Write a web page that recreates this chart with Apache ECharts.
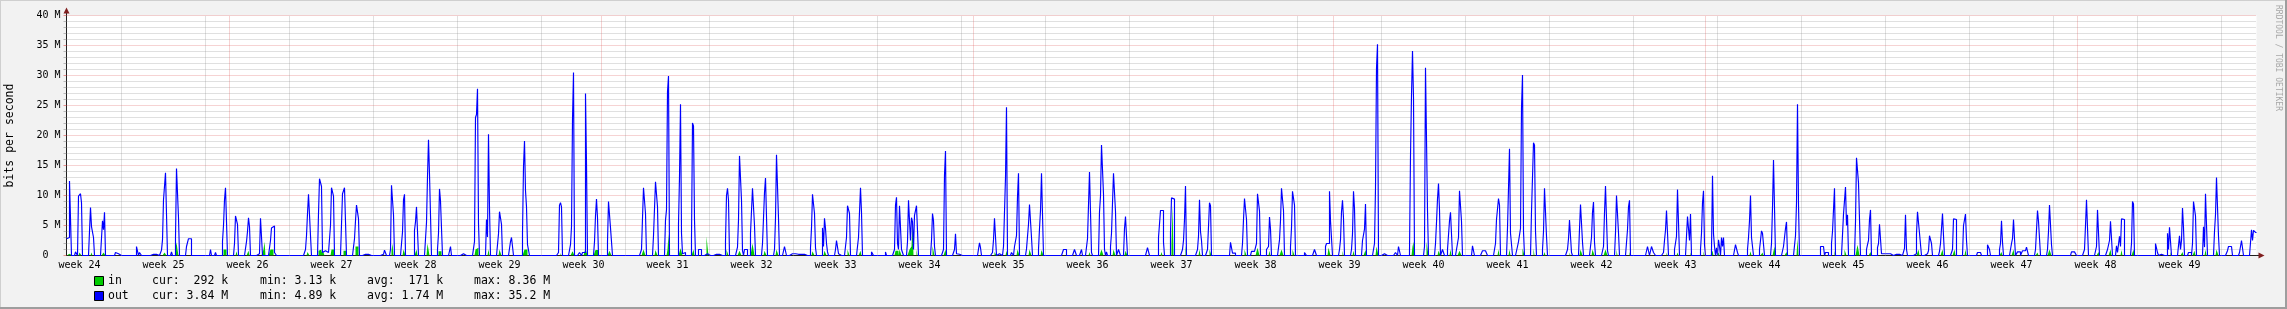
<!DOCTYPE html>
<html><head><meta charset="utf-8">
<script src="https://cdn.jsdelivr.net/npm/echarts@6/dist/echarts.min.js"></script>
<style>html,body{margin:0;padding:0;background:#f2f2f2}#c{width:2287px;height:309px}</style>
</head><body><div id="c"></div>
<script>
// ---- data (time unit: one 2-hour slot; values in Mbit/s) ----
const weekLabels = ['week 24','week 25','week 26','week 27','week 28','week 29','week 30','week 31','week 32','week 33','week 34','week 35','week 36','week 37','week 38','week 39','week 40','week 41','week 42','week 43','week 44','week 45','week 46','week 47','week 48','week 49'];
const weekStarts = [55,139,223,307,391,475,559,643,727,811,895,979,1063,1147,1231,1315,1399,1483,1567,1651,1735,1819,1903,1987,2071,2155];
const monthStarts = [163,535,907,1267,1639,2011];
const yTicks = [0,5,10,15,20,25,30,35,40];
const outSegments = [
[0,[2.8,2.8,3.0,12.4,12.4]],[9,[0.6,0.6]],[12,[9.9,9.9,10.3,8.8]],[24,[8.0,4.8,4.8,3.0]],[36,[5.8,4.3,7.2]],
[49,[0.5,0.5,0.3]],[70,[1.5,1.5]],[73,[0.5,0.5]],[85,[0.2,0.2,0.2,0.2,0.2,0.2]],[95,[0.9,2.6,9.3,9.3,13.8,13.8]],
[105,[0.6]],[109,[3.0,14.5,14.5,6.3]],[120,[1.5,1.5,2.8,2.8,2.8]],[135,[0.2]],[144,[1.0]],[149,[0.5]],
[156,[2.4,5.0,9.3,11.3,11.3]],[168,[2.0,6.6,6.6,5.2]],[180,[2.3,4.0,6.3,4.8]],[192,[0.3,0.5,6.2,6.0]],
[204,[2.5,4.6,4.9,4.9,0.5,0.5]],[231,[0.2,0.2]],[239,[1.0,3.3,7.0,10.2,10.2,3.3]],
[252,[7.0,12.8,12.8,11.5,0.5,0.5,0.8,0.5,1.0,0.5,0.5,0.8]],[264,[5.0,11.3,11.3,9.9]],[276,[10.3,10.3,11.3,11.3]],
[288,[2.8,5.8,8.4,8.4,6.1]],[296,[0.2,0.2,0.2,0.2,0.2,0.2,0.2,0.2]],[315,[0.2,0.2,0.2,0.9,0.9]],
[324,[1.0,11.7,11.7,6.8]],[336,[3.9,9.3,10.2]],[348,[4.2,5.6,8.1,8.1]],[360,[5.5,13.1,19.3,13.5,13.2]],
[371,[1.0,3.7,11.1,9.1,9.1]],[384,[1.5]],[396,[0.3]],[408,[2.3,23.0,23.5,27.8,5.3]],[420,[6.0,3.1,20.2,7.8]],
[432,[3.6,7.3,7.6,5.2]],[444,[2.3,3.0,3.0]],[456,[3.8,14.8,19.1,10.8,8.1,1.8,1.8]],[469,[0.3]],[481,[0.3]],
[492,[0.5,8.4,8.8,8.1]],[504,[1.8,4.8,22.7,30.5]],[513,[0.5,0.5,0,0.5,0.5,0.5,27.0,15.3]],[528,[2.3,6.6,9.4,6.3]],
[541,[2.3,9.0,9.0,4.6,4.4]],[553,[0.3]],[571,[0.3]],[575,[1.0,6.2,11.3,11.3,7.0]],[587,[3.3,3.3,12.3,12.3,8.1]],
[599,[5.9,7.6,27.3,29.9]],[612,[5.3,13.1,25.2,3.7,0.3,0.3,0.5]],[625,[3.0,22.1,21.6,5.9]],[632,[1.0,1.0,1.0]],
[639,[0.3,0.3,0.3,0.3]],[649,[0.2,0.2,0.2,0.2,0.2,0.2]],[659,[2.4,10.0,11.2,9.2]],[671,[1.4,5.9,16.6,16.6,9.2,0.8]],
[678,[1.0,1.0,1.0]],[684,[3.7,3.7,11.2,11.2,5.0]],[696,[2.0,6.2,10.5,12.9,12.9]],[708,[1.0,6.2,16.8,16.8,6.2]],
[718,[1.5,1.5]],[724,[0.3,0.3,0.3,0.3,0.3,0.3]],[730,[0.2,0.2,0.2,0.2,0.2,0.2,0.2,0.2]],
[744,[1.3,4.6,10.2,10.2,7.0,1.3]],[756,[4.6,1.5,6.2,4.5,2.0,0.6]],[769,[1.0,2.5,2.5,0.3]],[780,[3.0,8.3,8.3,7.0]],
[792,[3.0,7.2,11.3,7.2]],[805,[0.6,0.6]],[819,[0.6]],[828,[1.0,8.4,9.7,2.0,1.0,8.3,8.3,1.0,0.5]],
[841,[2.3,9.2,9.2,2.5,6.3,5.6,1.0,6.7,6.7,8.3,8.3]],[865,[2.5,7.0,5.8,1.5]],[877,[1.0,13.4,17.4]],
[888,[1.0,3.6,0.3,0.2,0.2]],[913,[2.1,1.3]],[926,[0.5,2.6,6.2,6.2]],[932,[0.3]],[937,[1.5,1.5,13.0,24.7]],
[945,[0.5,0.5]],[948,[1.5,1.5,3.3,9.8,13.7]],[960,[1.1,1.1,5.2,8.5,8.5,3.0]],[972,[1.0,4.5,7.5,13.7,13.7]],
[997,[1.0,1.0,1.0]],[1008,[1.0,1.0]],[1015,[1.0]],[1021,[2.8,2.8,13.9,13.9,0.5]],[1033,[7.3,9.9,18.4,18.4,10.2,1.0]],
[1040,[0.6]],[1044,[1.5,3.7,3.7,13.7,13.7,7.3]],[1052,[1.0,1.0]],[1058,[4.5,6.5,6.7]],[1081,[1.3,1.3]],
[1092,[3.0,3.0,7.5,7.5,7.5,2.2]],[1104,[3.9,9.6,9.6,9.4]],[1116,[1.0,2.5,6.0,11.6]],[1131,[1.0,3.2,9.3,4.0,2.5]],
[1141,[1.0,4.8,8.8,8.3]],[1164,[2.2,2.2,0.4,0.4,0.4]],[1176,[2.0,6.0,9.5,9.5,6.0]],
[1185,[0.7,0.7,0.7,0.7,1.0,2.0,10.3,10.3,7.4]],[1200,[1.0,1.3,1.5,6.4,4.4]],[1213,[2.6,5.8,11.2,11.2,7.5]],
[1224,[1.5,4.6,10.7,10.7,8.4]],[1238,[0.5,0.5]],[1248,[1.0,1.0]],[1259,[1.5,2.0,2.0,2.0,10.7,5.8,5.8]],
[1273,[1.0,2.6,7.3,9.2,6.2]],[1285,[1.0,3.6,10.7,7.8]],[1296,[2.5,2.5,4.4,8.6]],[1308,[2.0,11.2,31.2,35.2]],
[1317,[0.3]],[1329,[0.5,0.5,0,1.5,1.5]],[1343,[0.8,16.6,26.7,34.1,26.3]],[1358,[1.5,31.3,31.3,7.5]],
[1369,[2.0,5.5,9.4,12.0,7.6]],[1376,[1.0,1.0]],[1381,[1.0,1.0,5.8,7.2,7.0]],[1390,[1.0,1.0,3.0,10.8,10.8,5.7]],
[1406,[1.6,1.6]],[1416,[0.8,0.8,0.8,0.8,0.8]],[1429,[2.0,6.0,6.0,9.5,8.4]],[1441,[4.6,4.6,17.8,3.7,3.7]],
[1451,[1.5,2.3,2.3,4.5,24.6,30.1,4.0]],[1465,[7.3,7.3,18.8,18.4,4.1]],[1476,[1.0,4.0,11.2,11.2,3.2]],
[1490,[0.3]],[1501,[1.0,2.8,5.9,5.9,0.5]],[1513,[4.4,8.5,8.5,2.2]],[1525,[3.0,7.2,8.9,2.2]],
[1537,[1.5,7.1,11.6,11.6,0.8]],[1549,[3.8,10.0,10.0,3.8]],[1561,[4.3,8.1,9.2]],[1581,[1.5,1.5]],
[1585,[1.5,1.5,0.5,0.5]],[1597,[0.5,2.5,4.2,7.5,7.5]],[1608,[1.0,1.0,3.2,11.0,11.0]],[1621,[6.5,6.5,2.5,6.9]],
[1634,[1.0,3.7,8.8,10.8,1.8]],[1645,[1.0,13.3,3.6,1.5,0,1.3,0,2.6,1.5,0,3.0,1.5,3.0]],[1669,[1.8,1.8,0.5]],
[1681,[1.0,3.0,5.8,10.0,3.0,1.5]],[1693,[1.0,2.5,4.1,3.7,3.5]],[1705,[2.0,8.0,15.9,8.0]],[1717,[1.5,1.5,4.5,5.6]],
[1729,[3.3,8.7,25.2,8.5]],[1740,[0.3]],[1754,[1.5,1.5,1.5,1.5,0,0.5,0.5,0.5]],[1765,[2.0,4.0,4.0,11.2]],
[1777,[6.9,6.9,11.4,5.0,6.8]],[1789,[5.6,16.3,16.3,12.1,12.1]],[1800,[1.0,1.8,2.5,6.0,7.6]],
[1811,[1.3,2.0,5.2,5.2,0.3,0.3,0.3,0.3,0.3,0.3,0.3,0.3,0.3,0.3]],[1828,[0.2,0.2,0.2,0.2,0.2,0.2]],
[1838,[1.2,6.8,1.0]],[1848,[0.3,0.3,3.6,7.3,7.3,3.7,3.7]],[1860,[0.3,0.5,0.8,3.3,3.3,2.0]],
[1873,[0.7,2.0,2.2,7.0,3.3]],[1885,[0.5,1.0,6.1,6.1,6.0]],[1896,[0.3,5.0,5.0,6.9,2.5]],[1911,[0.5,0.5,0.5,0.5]],
[1921,[1.8,1.8,1.0]],[1933,[1.0,2.0,5.8,2.2]],[1944,[1.0,2.0,2.8,6.0,2.8]],[1951,[0.6,0.6,0.6]],
[1956,[0.8,0.8,0.8,0.8,1.4,1.4]],[1969,[1.0,1.0,7.5,5.7,5.7]],[1981,[1.0,4.0,8.4,8.4,1.8]],[1996,[0.3]],
[2005,[0.6,0.6,0.6,0.6,0.6]],[2018,[1.0,5.0,9.3,9.3]],[2030,[1.5,7.6,7.6]],[2041,[1.0,1.0,2.5,5.7,5.7]],
[2050,[1.6,0.5,0.5,3.2,1.5,6.1,6.4,6.0]],[2065,[2.0,9.0,8.6]],[2077,[0.3,0.3]],[2089,[2.0,2.0,0.5]],
[2094,[0.2,0.2,0.2]],[2101,[3.7,1.0,4.7,4.9]],[2113,[3.3,1.0,2.5,7.9,4.6]],[2122,[0.5,0.5,0.5]],
[2126,[2.0,9.0,9.0,6.6]],[2137,[4.8,1.4,10.3,10.3]],[2148,[4.0,6.8,13.0,13.0,3.2]],[2161,[0.8,1.5,1.5,1.5,1.5]],
[2173,[0.5,0.5,2.5,2.5]],[2185,[4.3,2.5,4.2,4.2,3.84]]
];
const inSegments = [
[1,[0.3,0.3,0.3]],[13,[0.5,0.5]],[25,[0.5]],[37,[0.5,0.5]],[98,[0.5,0.5]],[109,[1.0,2.2,1.0]],[157,[1.0,1.0,1.0]],
[170,[0.7]],[182,[0.8]],[196,[0.5,1.0,2.3]],[204,[1.0,1.0,1.0]],[241,[0.6,0.6]],[252,[0.8,0.5,1.0,0.5,1.0,0.8]],
[265,[1.0,1.0,1.0]],[277,[0.8,0.8,0.8]],[289,[1.5,1.5,1.5]],[325,[0.8,2.0]],[337,[1.0,1.0]],[350,[1.0]],
[361,[2.0,2.0]],[372,[0.7,0.7,0.7]],[409,[1.0,1.2,1.3]],[422,[1.0]],[433,[1.0,1.0]],[458,[1.0,1.0,1.0]],
[494,[0.4]],[506,[0.7,0.7]],[519,[1.2,1.2]],[529,[0.9,0.9,0.9]],[543,[0.8,0.8]],[577,[1.0,1.0]],[589,[0.9,0.9]],
[601,[1.0,3.6]],[614,[1.2,1.2]],[627,[1.0]],[640,[3.2,1.5]],[660,[1.0,1.0]],[673,[0.8,0.8]],[686,[2.0,2.0]],
[698,[0.8,0.8]],[710,[1.0,1.0]],[746,[0.7,0.7]],[758,[0.8,0.8]],[781,[1.0,1.0]],[794,[0.8]],[829,[0.8,0.8,0.8]],
[833,[1.0,1.0]],[843,[1.0,0.8,1.5,5.4]],[850,[1.0]],[866,[1.6,1.6]],[879,[1.0]],[928,[0.6,0.6]],[940,[0.8]],
[951,[1.0,1.0]],[963,[1.0,1.0]],[975,[0.9,0.9]],[1023,[0.6]],[1035,[1.0,1.0]],[1047,[1.0,1.0]],[1059,[0.8,0.8]],
[1095,[0.6]],[1105,[2.0,8.4]],[1119,[1.7]],[1133,[1.0]],[1143,[1.0,1.0]],[1178,[1.0,1.0]],[1191,[1.3,1.3]],
[1203,[0.8]],[1215,[1.0,1.0]],[1226,[1.0,1.0]],[1262,[1.3,1.3]],[1276,[0.8]],[1287,[0.8]],[1299,[0.9]],
[1310,[1.5,1.5]],[1346,[1.5,2.3]],[1360,[2.3,2.3]],[1372,[0.8,0.8]],[1384,[1.0]],[1393,[0.8,0.8]],[1432,[1.0]],
[1443,[1.0]],[1456,[1.2,1.2]],[1467,[1.2]],[1478,[0.6]],[1503,[0.5]],[1514,[1.0,1.0]],[1526,[1.0,1.0]],
[1539,[1.0,1.0]],[1550,[1.0]],[1563,[0.6]],[1600,[0.5]],[1611,[0.5]],[1624,[0.5]],[1637,[0.7]],[1646,[0.8]],
[1652,[0.5]],[1684,[0.7]],[1696,[0.5]],[1708,[1.5]],[1720,[0.6]],[1731,[2.8]],[1768,[0.8]],[1778,[1.0,1.0]],
[1791,[1.8,1.8]],[1804,[0.6]],[1852,[1.0]],[1876,[1.0]],[1888,[1.0]],[1899,[1.0]],[1935,[0.6]],[1947,[1.0]],
[1971,[0.5]],[1983,[1.0,1.0]],[2032,[0.6]],[2044,[1.0]],[2055,[0.9]],[2067,[1.0]],[2104,[0.6]],[2116,[0.6]],
[2128,[0.8]],[2139,[1.0]],[2150,[1.0,1.0]],[2189,[0.292]]
];
const legendIn  = ['cur:  292 k','min: 3.13 k','avg:  171 k','max: 8.36 M'];
const legendOut = ['cur: 3.84 M','min: 4.89 k','avg: 1.74 M','max: 35.2 M'];
const SLOTS = 2190;

function expand(segs){
  const a = new Array(SLOTS + 1).fill(0);
  segs.forEach(([s, vals]) => vals.forEach((v, i) => { a[s + i] = v; }));
  a[SLOTS] = a[SLOTS - 1];
  return a.map((v, i) => [i, v]);
}

const MONO = '"DejaVu Sans Mono", monospace';
const chart = echarts.init(document.getElementById('c'), null, {renderer: 'canvas'});
const vlines = (arr, color) => arr.map(v => ({xAxis: v, lineStyle: {color, width: 1, type: [1, 1]}}));

chart.setOption({
  animation: false,
  backgroundColor: '#f2f2f2',
  grid: {left: 66.5, top: 15.5, width: 2190, height: 240, show: true, backgroundColor: '#ffffff', borderWidth: 0},
  xAxis: {
    type: 'value', min: 0, max: SLOTS,
    axisLine: {show: true, lineStyle: {color: '#1f1f1f', width: 1}},
    axisTick: {show: false}, splitLine: {show: false},
    axisLabel: {
      show: true, customValues: weekStarts.map(s => s - 42), margin: 5,
      formatter: v => weekLabels[weekStarts.indexOf(v + 42)] || '',
      fontFamily: MONO, fontSize: 10, color: '#000'
    }
  },
  yAxis: {
    type: 'value', min: 0, max: 40, interval: 5,
    axisLine: {show: true, lineStyle: {color: '#1f1f1f', width: 1}},
    axisTick: {show: true, length: 3, lineStyle: {color: 'rgba(222,79,79,0.6)'}},
    minorTick: {show: true, splitNumber: 5, length: 3, lineStyle: {color: 'rgba(143,143,143,0.6)'}},
    splitLine: {show: true, lineStyle: {color: 'rgba(222,79,79,0.5)', width: 1, type: [1, 1]}},
    minorSplitLine: {show: true, lineStyle: {color: 'rgba(143,143,143,0.55)', width: 1, type: [1, 1]}},
    axisLabel: {
      margin: 6, fontFamily: MONO, fontSize: 10, color: '#000',
      customValues: yTicks,
      formatter: v => v === 0 ? '0\u00a0\u00a0' : v + ' M'
    }
  },
  series: [
    {
      type: 'line', name: 'grid', data: [], z: 1, silent: true,
      markLine: {
        silent: true, symbol: ['none', 'none'], label: {show: false}, animation: false,
        data: vlines(weekStarts, 'rgba(143,143,143,0.55)').concat(vlines(monthStarts, 'rgba(222,79,79,0.5)'))
      }
    },
    {
      type: 'line', name: 'in', data: expand(inSegments), step: 'end', z: 2,
      showSymbol: false, symbol: 'none', sampling: null, silent: true,
      lineStyle: {width: 0, color: '#00cc00'}, areaStyle: {color: '#00cc00', opacity: 1}
    },
    {
      type: 'line', name: 'out', data: expand(outSegments), step: 'end', z: 3,
      showSymbol: false, symbol: 'none', silent: true,
      lineStyle: {width: 1.15, color: '#0000ff'}
    }
  ]
});

// decorations placed from the chart's own coordinate conversion
const o = chart.convertToPixel({gridIndex: 0}, [0, 0]);
const t = chart.convertToPixel({gridIndex: 0}, [0, 40]);
const r = chart.convertToPixel({gridIndex: 0}, [SLOTS, 0]);
const legendX = [152, 260, 367, 474];
const textEl = (x, y, s, extra) => Object.assign({type: 'text', x, y, silent: true,
  style: Object.assign({text: s, fill: '#000', font: '11.5px ' + MONO, textVerticalAlign: 'middle'}, extra || {})});
const g = [
  {type: 'line', silent: true, shape: {x1: o[0], y1: t[1], x2: o[0], y2: t[1] - 4}, style: {stroke: '#1f1f1f', lineWidth: 1}},
  {type: 'line', silent: true, shape: {x1: r[0], y1: o[1], x2: r[0] + 3, y2: o[1]}, style: {stroke: '#1f1f1f', lineWidth: 1}},
  {type: 'polygon', silent: true, shape: {points: [[o[0] - 3, t[1] - 2], [o[0] + 3, t[1] - 2], [o[0], t[1] - 8]]}, style: {fill: '#801f1f'}},
  {type: 'polygon', silent: true, shape: {points: [[r[0] + 2, o[1] - 3], [r[0] + 2, o[1] + 3], [r[0] + 8, o[1]]]}, style: {fill: '#801f1f'}},
  textEl(10, (o[1] + t[1]) / 2, 'bits per second', {textAlign: 'center', font: '11.5px ' + MONO}),
  textEl(2278, 5, 'RRDTOOL / TOBI OETIKER', {textAlign: 'left', fill: '#a8a8a8', font: '8px ' + MONO}),
  {type: 'rect', silent: true, shape: {x: 94.5, y: 276.5, width: 9, height: 9}, style: {fill: '#00cc00', stroke: '#000', lineWidth: 1}},
  {type: 'rect', silent: true, shape: {x: 94.5, y: 291.5, width: 9, height: 9}, style: {fill: '#0000ff', stroke: '#000', lineWidth: 1}},
  textEl(108, 281, 'in'), textEl(108, 296, 'out'),
  {type: 'rect', silent: true, shape: {x: 0, y: 0, width: 2287, height: 1}, style: {fill: '#cfcfcf'}},
  {type: 'rect', silent: true, shape: {x: 0, y: 0, width: 1, height: 309}, style: {fill: '#cfcfcf'}},
  {type: 'rect', silent: true, shape: {x: 2285, y: 0, width: 2, height: 309}, style: {fill: '#9e9e9e'}},
  {type: 'rect', silent: true, shape: {x: 0, y: 307, width: 2287, height: 2}, style: {fill: '#9e9e9e'}}
];
g[4].rotation = Math.PI / 2;
g[5].rotation = -Math.PI / 2;
legendIn.forEach((s, i) => g.push(textEl(legendX[i], 281, s)));
legendOut.forEach((s, i) => g.push(textEl(legendX[i], 296, s)));
chart.setOption({graphic: {elements: g}});
</script>
</body></html>
